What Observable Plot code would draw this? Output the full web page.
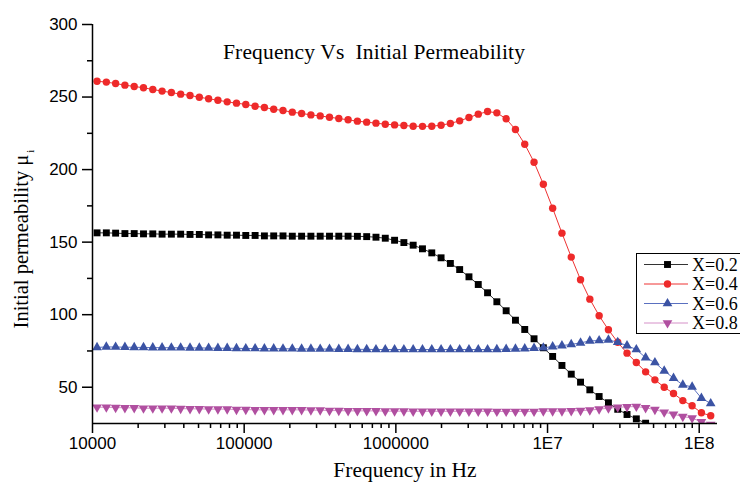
<!DOCTYPE html>
<html><head><meta charset="utf-8">
<script src="https://cdn.jsdelivr.net/npm/d3@7"></script>
<script src="https://cdn.jsdelivr.net/npm/@observablehq/plot@0.6"></script>
<style>
body{margin:0;background:#fff;}
#wrap{position:relative;width:740px;height:484px;overflow:hidden;background:#fff;}
.lbl{position:absolute;font-family:"Liberation Serif","Times New Roman",serif;color:#000;white-space:pre;line-height:1.1;}
</style></head><body><div id="wrap"></div>
<script>
// ---- data ----
const freq = [10715, 12337, 14206, 16358, 18836, 21689, 24974, 28757, 33113, 38129,
  43954, 50611, 58278, 67105, 77268, 88977, 102456, 118058, 135936, 156530,
  180300, 207630, 239100, 275360, 317110, 365160, 420520, 484280, 557700, 642240,
  739610, 851730, 980840, 1129500, 1300800, 1498000, 1725100, 1986600, 2287800, 2634600,
  3033900, 3493800, 4023500, 4633400, 5335800, 6144600, 7076100, 8148800, 9384200, 10807000,
  12445000, 14332000, 16504000, 19006000, 21887000, 25205000, 29026000, 33426000, 38493000, 44328000,
  51050000, 58788000, 67700000, 77963000, 89781000, 103390000, 119060000];

const mu02 = [156.4, 156.4, 156.2, 155.9, 155.9, 155.7, 155.7, 155.5, 155.5, 155.5,
  155.3, 155.3, 155.0, 155.0, 154.8, 154.8, 154.6, 154.6, 154.3, 154.3,
  154.3, 154.1, 154.1, 154.1, 154.1, 154.1, 154.1, 154.1, 154.0, 153.8,
  153.4, 152.7, 151.3, 149.7, 147.9, 145.4, 142.6, 139.2, 135.3, 131.1,
  126.1, 120.8, 115.1, 108.9, 102.7, 96.2, 89.8, 83.4, 77.2, 71.2,
  65.0, 59.0, 53.5, 48.2, 43.6, 39.3, 34.8, 31.2, 28.2, 25.2];

const mu04 = [260.9, 260.3, 259.3, 258.2, 257.3, 256.4, 255.2, 254.1, 253.1, 252.0,
  251.1, 249.9, 248.8, 247.8, 246.7, 245.8, 244.9, 243.7, 242.8, 241.6,
  240.7, 239.6, 238.7, 237.7, 237.0, 236.1, 235.2, 234.3, 233.4, 232.7,
  232.0, 231.3, 230.8, 230.4, 229.9, 229.8, 229.9, 230.6, 231.8, 233.6,
  235.9, 238.2, 240.0, 239.1, 235.0, 227.6, 217.5, 205.1, 189.9, 173.4,
  156.2, 139.7, 124.1, 110.7, 99.3, 89.6, 81.0, 73.5, 67.0, 60.6,
  55.1, 50.0, 45.7, 40.8, 37.2, 32.4, 30.3];

const mu06 = [77.4, 77.8, 77.7, 77.6, 77.5, 77.4, 77.3, 77.3, 77.2, 77.2,
  77.1, 77.1, 77.0, 76.9, 76.9, 76.8, 76.7, 76.7, 76.6, 76.6,
  76.5, 76.5, 76.4, 76.4, 76.3, 76.3, 76.2, 76.2, 76.1, 76.1,
  76.0, 76.0, 76.0, 76.0, 76.0, 76.0, 76.0, 76.0, 76.0, 76.0,
  76.0, 76.0, 76.0, 76.1, 76.2, 76.4, 76.6, 76.9, 77.2, 78.0,
  78.7, 79.5, 80.6, 81.9, 82.2, 82.6, 81.0, 78.7, 76.0, 70.4,
  67.0, 61.3, 56.3, 51.6, 50.2, 42.5, 38.8];

const mu08 = [36.2, 36.2, 36.0, 35.8, 35.8, 35.5, 35.5, 35.5, 35.5, 35.3,
  35.1, 35.1, 34.9, 34.9, 34.9, 34.6, 34.6, 34.4, 34.4, 34.4,
  34.4, 34.4, 34.4, 34.2, 34.2, 33.9, 33.9, 33.7, 33.7, 33.7,
  33.7, 33.5, 33.5, 33.5, 33.4, 33.4, 33.4, 33.4, 33.4, 33.4,
  33.4, 33.4, 33.4, 33.3, 33.3, 33.3, 33.3, 33.3, 33.5, 33.5,
  33.5, 33.7, 33.9, 34.2, 34.9, 35.5, 36.2, 36.5, 36.7, 35.8,
  34.6, 32.8, 31.4, 29.8, 28.7, 26.1, 24.3];

const seriesNames = ["X=0.2", "X=0.4", "X=0.6", "X=0.8"];
const yMajor = [50, 100, 150, 200, 250, 300];
const yMinor = [75, 125, 175, 225, 275];
const xMajor = [1e4, 1e5, 1e6, 1e7, 1e8];
const xTickLabels = ["10000", "100000", "1000000", "1E7", "1E8"];
const xMinor = [2e4, 3e4, 4e4, 5e4, 6e4, 7e4, 8e4, 9e4,
  2e5, 3e5, 4e5, 5e5, 6e5, 7e5, 8e5, 9e5,
  2e6, 3e6, 4e6, 5e6, 6e6, 7e6, 8e6, 9e6,
  2e7, 3e7, 4e7, 5e7, 6e7, 7e7, 8e7, 9e7];
const titleText = "Frequency Vs  Initial Permeability";
const xLabelText = "Frequency in Hz";
const yLabelText = "Initial permeability μ";
const yLabelSub = "i";

// ---- styling ----
const triangleDown = {
  draw(context, size) {
    const y = -Math.sqrt(size / (Math.sqrt(3) * 3));
    context.moveTo(0, -y * 2);
    context.lineTo(-Math.sqrt(3) * y, y);
    context.lineTo(Math.sqrt(3) * y, y);
    context.closePath();
  }
};
const styles = [
  {fill: "#000000", line: "#333333", symbol: "square", r: 3.9},
  {fill: "#ee2a2a", line: "#ee3333", symbol: "circle", r: 3.7},
  {fill: "#3b53a4", line: "#5a70c0", symbol: "triangle", r: 3.6},
  {fill: "#b04fa0", line: "#d590c8", symbol: triangleDown, r: 3.6}
];
const allSeries = [mu02, mu04, mu06, mu08];

const seriesMarks = allSeries.flatMap((vals, k) => {
  const rows = vals.map((v, i) => ({f: freq[i], mu: v, s: seriesNames[k]}));
  const st = styles[k];
  return [
    Plot.line(rows, {x: "f", y: "mu", stroke: st.line, strokeWidth: 1, clip: true}),
    Plot.dot(rows, {x: "f", y: "mu", symbol: st.symbol, r: st.r, fill: st.fill, stroke: "none", clip: true})
  ];
});

const chart = Plot.plot({
  width: 740, height: 484,
  marginLeft: 92, marginRight: 23, marginTop: 24, marginBottom: 61,
  style: {fontFamily: "'Liberation Sans', Arial, sans-serif", fontSize: "17px", background: "transparent", color: "#000", overflow: "visible"},
  x: {type: "log", domain: [1e4, 1.32e8]},
  y: {domain: [25, 300]},
  marks: [
    ...seriesMarks,
    Plot.axisY({ticks: yMajor, tickSize: 10, tickPadding: 5, tickFormat: d => String(d), label: null, strokeWidth: 1.5, fontSize: 17}),
    Plot.axisY({ticks: yMinor, tickSize: 5, tickFormat: () => "", label: null, strokeWidth: 1.5}),
    Plot.axisX({ticks: xMajor, tickSize: 10, tickPadding: 3, tickFormat: d => xTickLabels[xMajor.indexOf(d)], label: null, strokeWidth: 1.5, fontSize: 17}),
    Plot.axisX({ticks: xMinor, tickSize: 5, tickFormat: () => "", label: null, strokeWidth: 1.5}),
    Plot.ruleX([1e4], {strokeWidth: 1.5}),
    Plot.ruleY([25], {strokeWidth: 1.5})
  ]
});

const wrap = document.getElementById("wrap");
chart.style.position = "absolute";
chart.style.left = "0px";
chart.style.top = "0px";
wrap.appendChild(chart);

// title
const t = document.createElement("div");
t.className = "lbl";
t.textContent = titleText;
t.style.cssText += "left:223px;top:41px;font-size:21.5px;letter-spacing:0.15px;";
wrap.appendChild(t);

// x label
const xl = document.createElement("div");
xl.className = "lbl";
xl.textContent = xLabelText;
xl.style.cssText += "left:405px;top:459px;font-size:21.5px;transform:translateX(-50%);";
wrap.appendChild(xl);

// y label
const yl = document.createElement("div");
yl.className = "lbl";
yl.innerHTML = yLabelText + '<span style="font-size:11px;position:relative;top:6px;left:2px">' + yLabelSub + '</span>';
yl.style.cssText += "left:21px;top:240px;font-size:20.5px;transform:translate(-50%,-50%) rotate(-90deg);";
wrap.appendChild(yl);

// legend
const leg = d3.select(wrap).append("svg")
  .attr("width", 110).attr("height", 82)
  .style("position", "absolute").style("left", "636px").style("top", "253px");
leg.append("rect").attr("x", 0.5).attr("y", 0.5).attr("width", 130).attr("height", 80)
  .attr("fill", "#fff").attr("stroke", "#000").attr("stroke-width", 1);
const rowY = [11.5, 31, 50.5, 70];
seriesNames.forEach((name, k) => {
  const st = styles[k];
  const g = leg.append("g").attr("transform", `translate(0,${rowY[k]})`);
  g.append("line").attr("x1", 8).attr("x2", 52).attr("y1", 0).attr("y2", 0)
    .attr("stroke", st.line).attr("stroke-width", 1);
  const sym = typeof st.symbol === "string"
    ? {square: d3.symbolSquare, circle: d3.symbolCircle, triangle: d3.symbolTriangle}[st.symbol]
    : st.symbol;
  g.append("path").attr("transform", "translate(31.5,0)")
    .attr("d", d3.symbol(sym, st.r * st.r * Math.PI)()).attr("fill", st.fill);
  g.append("text").attr("x", 56).attr("y", 0).attr("dy", "0.35em")
    .attr("font-family", "'Liberation Serif', 'Times New Roman', serif").attr("font-size", 18)
    .text(name);
});
</script>
</body></html>
